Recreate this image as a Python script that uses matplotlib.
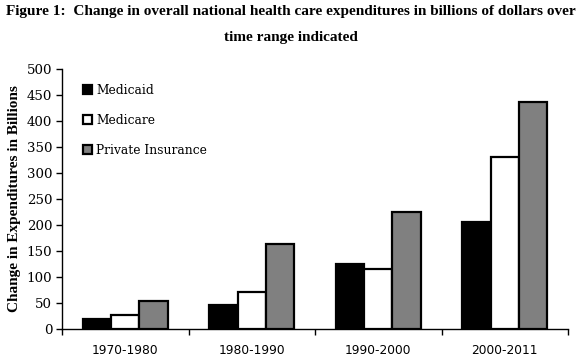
import matplotlib
matplotlib.use("Agg")
import matplotlib.pyplot as plt
import numpy as np

categories = ["1970-1980", "1980-1990", "1990-2000", "2000-2011"]
medicaid = [19, 46, 125, 205]
medicare = [27, 72, 115, 330]
private = [53, 164, 225, 437]
series_names = ["Medicaid", "Medicare", "Private Insurance"]
yticks = [0, 50, 100, 150, 200, 250, 300, 350, 400, 450, 500]

fig = plt.figure(figsize=(5.82, 3.61), dpi=100)
ax = fig.add_axes([62/582, 32/361, 506/582, 260/361])

x = np.arange(len(categories))
w = 0.224
colors = ["#000000", "#ffffff", "#808080"]
for k, (vals, name, c) in enumerate(zip([medicaid, medicare, private], series_names, colors)):
    ax.bar(x + (k - 1) * w, vals, width=w, color=c, edgecolor="black", linewidth=1.6, label=name)

ax.set_xlim(-0.5, len(categories) - 0.5)
ax.set_ylim(0, 500)
ax.set_yticks(yticks)
ax.set_yticklabels([str(v) for v in yticks], fontfamily="DejaVu Serif", fontsize=9.6)
ax.set_xticks(np.arange(len(categories) + 1) - 0.5)
ax.set_xticklabels([])
ax.set_xticks(x, minor=True)
ax.set_xticklabels(categories, minor=True, fontfamily="DejaVu Sans", fontsize=8.8)
ax.tick_params(axis="x", which="minor", length=0, pad=11)
ax.tick_params(axis="both", which="major", direction="out", length=4, width=1)
ax.tick_params(axis="y", pad=3)
for s in ["top", "right"]:
    ax.spines[s].set_visible(False)
ax.spines["left"].set_linewidth(1)
ax.spines["bottom"].set_linewidth(1)

ax.set_ylabel("Change in Expenditures in Billions", fontfamily="Liberation Serif",
              fontweight="bold", fontsize=11, labelpad=4)

leg = ax.legend(loc="upper left", bbox_to_anchor=(0.02, 0.985), frameon=False,
                prop={"family": "DejaVu Serif", "size": 8.8},
                handlelength=0.75, handleheight=0.75, handletextpad=0.3, labelspacing=1.4)

fig.text(0.5, 1 - 12/361, "Figure 1:  Change in overall national health care expenditures in billions of dollars over",
         ha="center", va="center", fontfamily="Liberation Serif", fontweight="bold", fontsize=11)
fig.text(0.5, 1 - 37/361, "time range indicated",
         ha="center", va="center", fontfamily="Liberation Serif", fontweight="bold", fontsize=11)

fig.savefig("out.png", dpi=100)
